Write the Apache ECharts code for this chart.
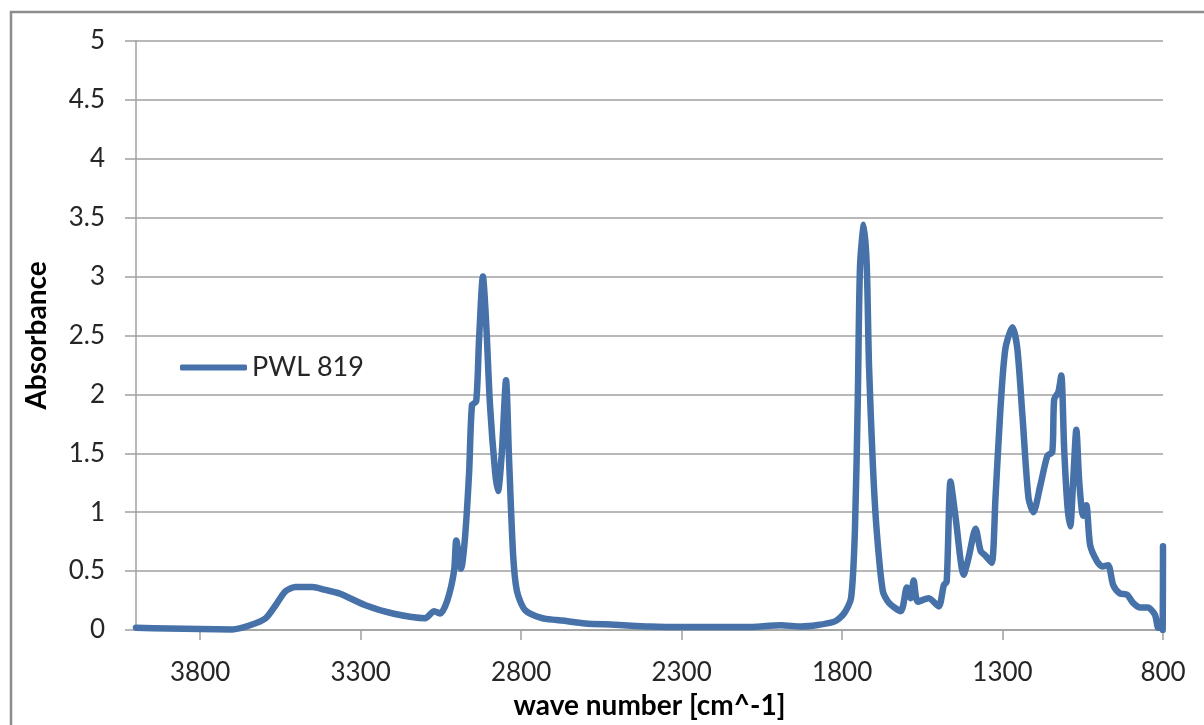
<!DOCTYPE html>
<html>
<head>
<meta charset="utf-8">
<title>PWL 819 absorbance spectrum</title>
<script src="https://cdn.jsdelivr.net/npm/echarts@6/dist/echarts.min.js"></script>
<style>
  html, body { margin: 0; padding: 0; background: #fff; overflow: hidden; }
  #chart { width: 1204px; height: 725px; }
</style>
</head>
<body>
<div id="chart"></div>
<script>
// IR spectrum of sample PWL 819: wave number [cm^-1] and absorbance
const seriesName = 'PWL 819';
const waveNumbers = [
  4000, 3900, 3800, 3700, 3645, 3596, 3565, 3534, 3503, 3450, 3410, 3366, 3285, 3200,
  3099, 3071, 3052, 3030, 3009, 3002, 2987, 2975, 2962, 2953, 2940, 2931, 2919, 2909,
  2897, 2881, 2872, 2860, 2847, 2838, 2825, 2813, 2788, 2735, 2690, 2673, 2600, 2509,
  2400, 2300, 2100, 1990, 1928, 1825, 1794, 1772, 1760, 1751, 1744, 1732, 1723, 1716,
  1704, 1692, 1673, 1654, 1617, 1598, 1586, 1577, 1564, 1530, 1499, 1483, 1474, 1462,
  1446, 1421, 1406, 1384, 1368, 1353, 1334, 1322, 1306, 1291, 1269, 1254, 1238, 1219,
  1204, 1182, 1160, 1145, 1139, 1126, 1117, 1108, 1098, 1089, 1080, 1070, 1061, 1049,
  1039, 1027, 1005, 989, 971, 955, 934, 912, 893, 871, 847, 825, 815, 808, 803, 801, 800
];
const absorbance = [
  0.02, 0.012, 0.008, 0.005, 0.04, 0.10, 0.21, 0.33, 0.365, 0.365, 0.34, 0.31, 0.21, 0.14,
  0.10, 0.16, 0.14, 0.25, 0.50, 0.76, 0.52, 0.78, 1.34, 1.91, 1.94, 2.47, 3.00, 2.61,
  1.91, 1.34, 1.18, 1.51, 2.12, 1.48, 0.64, 0.33, 0.17, 0.10, 0.085, 0.08, 0.055, 0.045,
  0.03, 0.025, 0.025, 0.04, 0.03, 0.07, 0.14, 0.27, 0.84, 1.96, 3.09, 3.44, 3.09, 2.24,
  1.40, 0.84, 0.33, 0.23, 0.16, 0.36, 0.27, 0.42, 0.24, 0.27, 0.20, 0.38, 0.41, 1.26,
  0.95, 0.47, 0.61, 0.86, 0.67, 0.63, 0.57, 1.12, 1.90, 2.39, 2.57, 2.39, 1.82, 1.12,
  1.00, 1.23, 1.48, 1.51, 1.96, 2.02, 2.16, 1.54, 1.06, 0.88, 1.26, 1.70, 1.26, 0.97,
  1.06, 0.72, 0.58, 0.54, 0.55, 0.38, 0.31, 0.30, 0.23, 0.19, 0.19, 0.13, 0.02, 0.02, 0.08, 0.0, 0.71
];
const xTicks = [800, 1300, 1800, 2300, 2800, 3300, 3800];
const xTitle = 'wave number [cm^-1]';
const yTitle = 'Absorbance';

const points = waveNumbers.map((w, i) => [w, absorbance[i]]);

const font = 'Lato, "Open Sans", sans-serif';
const textColor = '#262626';
const gridColor = '#a0a0a0';
const lineColor = '#4672A9';

const chart = echarts.init(document.getElementById('chart'), null, { renderer: 'canvas' });
chart.setOption({
  animation: false,
  backgroundColor: '#ffffff',
  graphic: [{
    type: 'rect',
    shape: { x: 11, y: 12, width: 1400, height: 900 },
    style: { fill: 'none', stroke: '#8c8c8c', lineWidth: 2.5 },
    silent: true
  }],
  grid: { left: 136, width: 1027, top: 41, height: 592, containLabel: false },
  legend: {
    left: 175, top: 349,
    itemWidth: 67, itemHeight: 6, itemGap: 8,
    textStyle: { fontFamily: font, fontSize: 27, color: textColor },
    data: [{ name: seriesName, icon: 'roundRect' }]
  },
  xAxis: {
    type: 'value',
    inverse: true,
    min: 800, max: 4000, interval: 500,
    name: xTitle,
    nameLocation: 'middle',
    nameGap: 62,
    nameTextStyle: { fontFamily: font, fontSize: 28, fontWeight: 'bold', color: '#000' },
    axisLine: { show: true, lineStyle: { color: gridColor, width: 1.5 } },
    axisTick: { show: true, length: 10, lineStyle: { color: gridColor, width: 1.5 }, customValues: xTicks },
    axisLabel: {
      customValues: xTicks,
      margin: 30,
      fontFamily: font, fontSize: 26, color: textColor,
      formatter: v => (xTicks.includes(v) ? String(v) : '')
    },
    splitLine: { show: false }
  },
  yAxis: {
    type: 'value',
    min: 0, max: 5, interval: 0.5,
    name: yTitle,
    nameLocation: 'middle',
    nameGap: 85,
    nameTextStyle: { fontFamily: font, fontSize: 28, fontWeight: 'bold', color: '#000' },
    axisLine: { show: true, lineStyle: { color: gridColor, width: 1.5 } },
    axisTick: { show: true, inside: false, length: 11, lineStyle: { color: gridColor, width: 1.5 } },
    axisLabel: { margin: 31, fontFamily: font, fontSize: 26, color: textColor },
    splitLine: { show: true, lineStyle: { color: gridColor, width: 1.5 } }
  },
  series: [{
    name: seriesName,
    type: 'line',
    data: points,
    symbol: 'none',
    smooth: 0.25,
    lineStyle: { color: lineColor, width: 6.5, join: 'round', cap: 'round' },
    itemStyle: { color: lineColor },
    z: 3
  }]
});
</script>
</body>
</html>
